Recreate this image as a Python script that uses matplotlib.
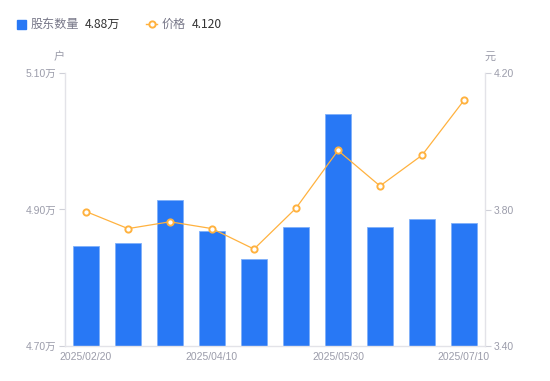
import matplotlib.pyplot as plt
from matplotlib.lines import Line2D
from matplotlib.patches import Rectangle

plt.rcParams['font.family'] = ['Noto Sans CJK SC', 'DejaVu Sans']

# data: shareholder count (万户) and price (元)
dates = ['2025/02/20', '2025/03/10', '2025/03/20', '2025/04/10', '2025/04/20',
         '2025/05/10', '2025/05/30', '2025/06/10', '2025/06/20', '2025/07/10']
holders = [4.846, 4.851, 4.914, 4.869, 4.827, 4.875, 5.040, 4.874, 4.886, 4.880]
price = [3.794, 3.744, 3.764, 3.744, 3.684, 3.804, 3.973, 3.869, 3.959, 4.120]
holder_ticks = [4.70, 4.90, 5.10]
price_ticks = [3.40, 3.80, 4.20]
shown_dates = [0, 3, 6, 9]

blue = '#2878f5'
orange = '#ffb23f'
gray = '#9b9caa'
axis_gray = '#e3e3e8'
tick_font = ['Liberation Sans', 'Noto Sans CJK SC']

W, H = 550, 381
fig = plt.figure(figsize=(W / 100, H / 100), dpi=100)
ax = fig.add_axes([65 / W, 35 / H, 420 / W, 273 / H])
ax2 = ax.twinx()

x = list(range(len(dates)))
ax.bar(x, holders, width=0.6, color=blue, edgecolor='#7fb0fa', linewidth=0.6)
ax2.plot(x, price, color=orange, lw=0.9, marker='o', ms=4.5,
         mfc='white', mec=orange, mew=1.4)

ax.set_xlim(-0.5, len(dates) - 0.5)
ax.set_ylim(holder_ticks[0], holder_ticks[-1])
ax2.set_ylim(price_ticks[0], price_ticks[-1])

ax.set_yticks(holder_ticks)
ax.set_yticklabels([f'{v:.2f}万' for v in holder_ticks], family=tick_font)
ax2.set_yticks(price_ticks)
ax2.set_yticklabels([f'{v:.2f}' for v in price_ticks], family=tick_font)
ax.set_xticks(shown_dates)
ax.set_xticklabels([dates[i] for i in shown_dates], family=tick_font)

for a in (ax, ax2):
    a.spines['top'].set_visible(False)
    for s in ('left', 'right', 'bottom'):
        a.spines[s].set_color(axis_gray)
        a.spines[s].set_linewidth(1)
    a.tick_params(axis='y', length=4, width=0.8, color='#cfd0d8',
                  labelsize=7.5, labelcolor=gray, pad=2)
ax2.spines['left'].set_visible(False)
ax2.spines['bottom'].set_visible(False)
ax.spines['right'].set_visible(False)
ax.tick_params(axis='x', length=0, labelsize=7.5, labelcolor=gray, pad=4)

# units
fig.text(59 / W, 1 - 57 / H, '户', ha='center', va='center', fontsize=8, color=gray)
fig.text(490 / W, 1 - 57 / H, '元', ha='center', va='center', fontsize=8, color=gray)

# legend
ly = 1 - 24 / H
fig.patches.append(Rectangle((17 / W, 1 - 28.5 / H), 8.5 / W, 8.5 / H,
                             transform=fig.transFigure, color=blue))
fig.text(31 / W, ly, '股东数量', ha='left', va='center', fontsize=8.7, color='#777788')
fig.text(85 / W, ly, f'{holders[-1]:.2f}万', ha='left', va='center', fontsize=8.7, color='#333333')
fig.lines.append(Line2D([146 / W, 157 / W], [ly, ly], transform=fig.transFigure,
                        color=orange, lw=1))
fig.lines.append(Line2D([151.5 / W], [ly], transform=fig.transFigure, marker='o',
                        ms=4.5, mfc='white', mec=orange, mew=1.4))
fig.text(162 / W, ly, '价格', ha='left', va='center', fontsize=8.7, color='#777788')
fig.text(192 / W, ly, f'{price[-1]:.3f}', ha='left', va='center', fontsize=8.7, color='#333333')

fig.savefig('out.png', dpi=100)
